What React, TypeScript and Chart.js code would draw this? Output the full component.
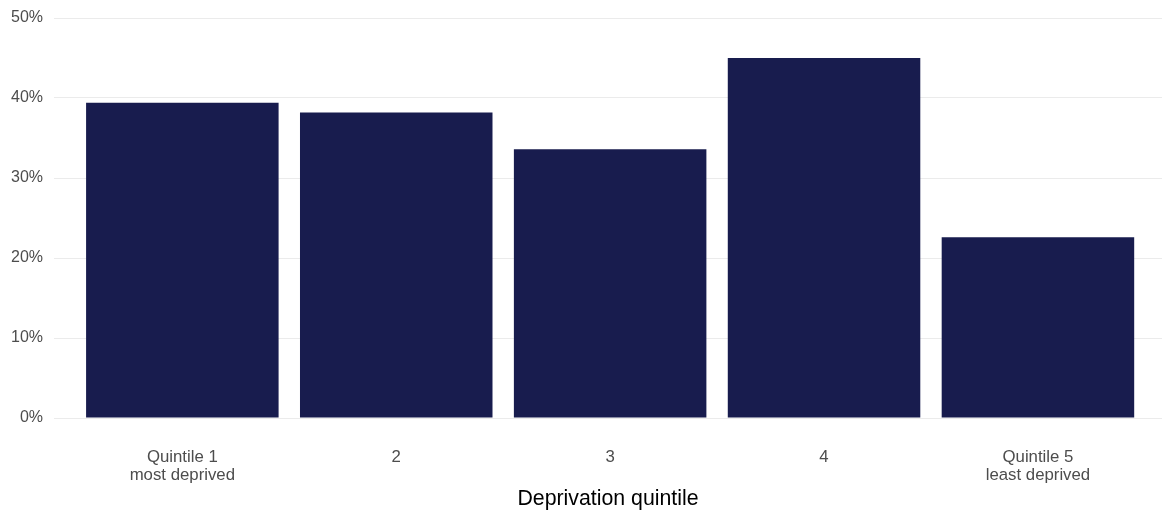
import React, { useEffect, useRef } from "react";
import { Chart, registerables } from "chart.js";

Chart.register(...registerables);

const categoryLabels: string[][] = [
  ["Quintile 1", "most deprived"],
  ["2"],
  ["3"],
  ["4"],
  ["Quintile 5", "least deprived"],
];
const categoryPositions: number[] = [0, 1, 2, 3, 4];
const shareValues: number[] = [39.4, 38.2, 33.6, 45.0, 22.6];
const yTickValues: number[] = [0, 10, 20, 30, 40, 50];
const xAxisTitle = "Deprivation quintile";

const FONT = "'Liberation Sans', Arial, sans-serif";

export default function App() {
  const ref = useRef<HTMLCanvasElement | null>(null);

  useEffect(() => {
    document.body.style.margin = "0";
    const canvas = ref.current;
    if (!canvas) return;
    const chart = new Chart(canvas, {
      type: "bar",
      data: {
        datasets: [
          {
            data: categoryPositions.map((x, i) => ({ x, y: shareValues[i] })),
            backgroundColor: "#181C4E",
            borderWidth: 0,
            barPercentage: 0.9,
            categoryPercentage: 1,
          },
        ],
      },
      options: {
        animation: false,
        responsive: false,
        maintainAspectRatio: false,
        layout: { padding: { top: 18, right: 0, bottom: 0, left: 0 } },
        plugins: {
          legend: { display: false },
          tooltip: { enabled: false },
        },
        scales: {
          x: {
            type: "linear",
            offset: false,
            min: -0.6,
            max: 4.58,
            grid: { display: false },
            border: { display: false },
            afterBuildTicks: (scale: any) => {
              scale.ticks = categoryPositions.map((v) => ({ value: v }));
            },
            afterFit: (scale: any) => {
              scale.height = 92;
              scale.paddingLeft = 0;
              scale.paddingRight = 0;
            },
            ticks: {
              autoSkip: false,
              maxRotation: 0,
              padding: 22,
              color: "#4D4D4D",
              font: { family: FONT, size: 16.8, lineHeight: 1.08 },
              callback: (value: any) => categoryLabels[Math.round(Number(value))] ?? "",
            },
            title: {
              display: true,
              text: xAxisTitle,
              color: "#000000",
              padding: { top: 0, bottom: 0 },
              font: { family: FONT, size: 21.3, lineHeight: 1.0 },
            },
          },
          y: {
            min: 0,
            max: 50,
            afterBuildTicks: (scale: any) => {
              scale.ticks = yTickValues.map((v) => ({ value: v }));
            },
            afterFit: (scale: any) => {
              scale.width = 54;
              scale.paddingTop = 0;
              scale.paddingBottom = 0;
            },
            grid: { color: "#EBEBEB", lineWidth: 1, drawTicks: false },
            border: { display: false },
            ticks: {
              padding: 11,
              color: "#4D4D4D",
              font: { family: FONT, size: 16 },
              callback: (value: any) => `${value}%`,
            },
          },
        },
      },
    } as any);
    return () => chart.destroy();
  }, []);

  return (
    <div style={{ width: 1162, height: 510 }}>
      <canvas ref={ref} width={1162} height={510} style={{ display: "block" }} />
    </div>
  );
}
